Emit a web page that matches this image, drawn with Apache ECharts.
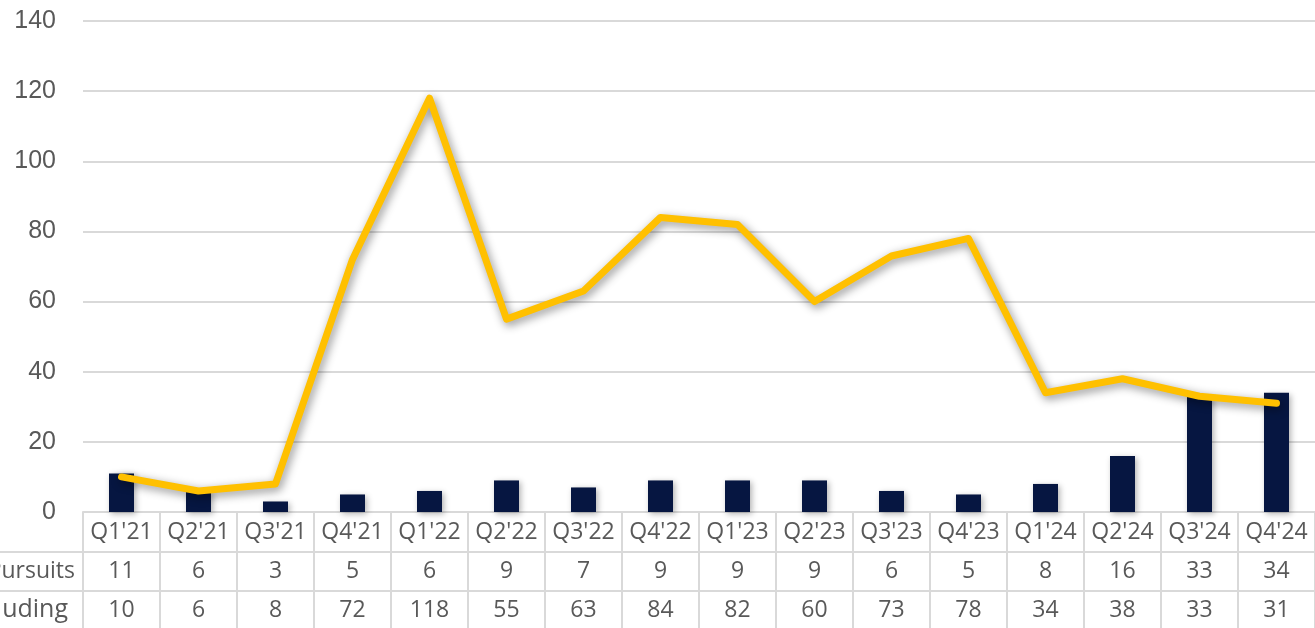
<!DOCTYPE html>
<html>
<head>
<meta charset="utf-8">
<script src="https://cdn.jsdelivr.net/npm/echarts@6/dist/echarts.min.js"></script>
<style>
  html, body { margin: 0; padding: 0; background: #fff; }
  #main { width: 1315px; height: 628px; }
</style>
</head>
<body>
<div id="main"></div>
<script>
// data
var quarters = ["Q1'21", "Q2'21", "Q3'21", "Q4'21", "Q1'22", "Q2'22", "Q3'22", "Q4'22",
                "Q1'23", "Q2'23", "Q3'23", "Q4'23", "Q1'24", "Q2'24", "Q3'24", "Q4'24"];
var pursuits = [11, 6, 3, 5, 6, 9, 7, 9, 9, 9, 6, 5, 8, 16, 33, 34];
var funding = [10, 6, 8, 72, 118, 55, 63, 84, 82, 60, 73, 78, 34, 38, 33, 31];
var rowNames = ['Pursuits', 'Including'];

var gridCol = '#d9d9d9';
var textCol = '#595959';
var tableFont = '"Open Sans", sans-serif';

function tableAxis(data, offset, tickLen) {
    return {
        type: 'category',
        data: data,
        position: 'bottom',
        offset: offset,
        boundaryGap: true,
        axisLine: { show: true, lineStyle: { color: gridCol, width: 2 } },
        axisTick: { show: true, interval: 0, length: tickLen, lineStyle: { color: gridCol, width: 2 } },
        axisLabel: {
            interval: 0, margin: tickLen / 2, verticalAlign: 'middle',
            fontSize: 23, color: textCol, fontFamily: tableFont
        },
        splitLine: { show: false }
    };
}

var myChart = echarts.init(document.getElementById('main'));

var option = {
    animation: false,
    grid: { left: 83, right: 0, top: 21, bottom: 116, containLabel: false },
    xAxis: [
        tableAxis(quarters, 0, 40),
        tableAxis(pursuits.map(String), 40, 39),
        tableAxis(funding.map(String), 79, 38)
    ],
    yAxis: {
        type: 'value',
        min: 0,
        max: 140,
        interval: 20,
        axisLine: { show: false },
        axisTick: { show: false },
        axisLabel: { margin: 27, fontSize: 25, color: textCol, fontFamily: '"Liberation Sans", sans-serif' },
        splitLine: { lineStyle: { color: gridCol, width: 2 } }
    },
    graphic: [
        { type: 'line', shape: { x1: 0, y1: 552, x2: 83, y2: 552 }, style: { stroke: gridCol, lineWidth: 2 } },
        { type: 'line', shape: { x1: 0, y1: 591, x2: 83, y2: 591 }, style: { stroke: gridCol, lineWidth: 2 } },
        { type: 'text', x: 75, y: 571, style: { text: rowNames[0], align: 'right', verticalAlign: 'middle',
            fontSize: 23, fill: textCol, fontFamily: tableFont } },
        { type: 'text', x: 68, y: 610, style: { text: rowNames[1], align: 'right', verticalAlign: 'middle',
            fontSize: 25, fill: textCol, fontFamily: tableFont } }
    ],
    series: [
        {
            name: rowNames[0],
            type: 'bar',
            data: pursuits,
            barWidth: 25,
            itemStyle: {
                color: '#061641',
                shadowColor: 'rgba(0,0,0,0.3)',
                shadowBlur: 6,
                shadowOffsetX: 2,
                shadowOffsetY: 2
            }
        },
        {
            name: rowNames[1],
            type: 'line',
            data: funding,
            symbol: 'none',
            lineStyle: {
                color: '#ffc000',
                width: 7,
                cap: 'round',
                join: 'round',
                shadowColor: 'rgba(0,0,0,0.45)',
                shadowBlur: 10,
                shadowOffsetX: 2,
                shadowOffsetY: 3
            }
        }
    ]
};

myChart.setOption(option);
</script>
</body>
</html>
